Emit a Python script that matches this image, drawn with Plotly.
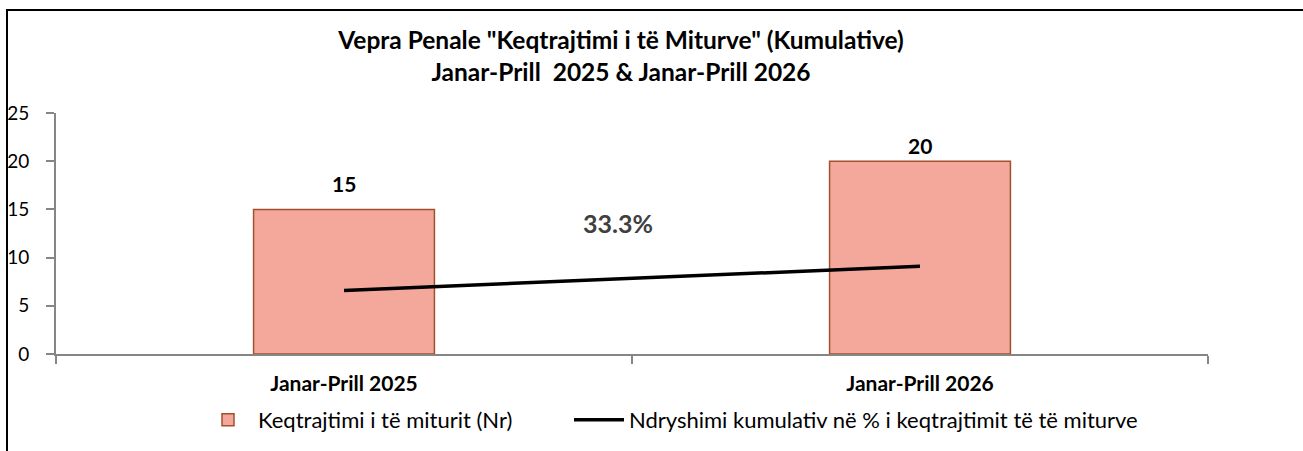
import plotly.graph_objects as go

categories = ["Janar-Prill 2025", "Janar-Prill 2026"]
bar_values = [15, 20]
line_values = [6.6, 9.1]  # position of the change line, read on the left scale
change_label = "33.3%"
y_ticks = [0, 5, 10, 15, 20, 25]

FONT = "Lato"
W, H = 1303, 451
# target plot area in pixels
PX0, PX1, PY0, PY1 = 56, 1208, 113, 354
L, R, T, B = PX0, W - PX1, PY0, H - PY1
pw, ph = PX1 - PX0, PY1 - PY0
label_shift = [26, 16]  # pixel offset of the value labels above the bars

fig = go.Figure()
fig.add_trace(go.Bar(
    x=categories, y=bar_values, name="Keqtrajtimi i të miturit (Nr)",
    marker=dict(color="#F4A79B", line=dict(color="#A0522D", width=1.5)),
    width=0.314, legend="legend",
))
fig.add_trace(go.Scatter(
    x=categories, y=line_values, mode="lines",
    name="Ndryshimi kumulativ në % i keqtrajtimit të të miturve",
    line=dict(color="#000000", width=3.5), legend="legend2",
))

for c, v, s in zip(categories, bar_values, label_shift):
    fig.add_annotation(
        x=c, y=v, xref="x", yref="y", text=str(v), showarrow=False,
        yanchor="middle", yshift=s,
        font=dict(family=FONT, size=21, color="#000000", weight="bold"),
    )

fig.add_annotation(
    x=0.5, y=(PY1 - 223) / ph * 25, xref="x", yref="y",
    text=change_label, showarrow=False, xshift=-14,
    font=dict(family=FONT, size=25, color="#404040", weight="bold"),
)

fig.add_shape(type="rect", xref="paper", yref="paper",
              x0=(7 - PX0) / pw, x1=1.3, y0=-0.6, y1=(PY1 - 10) / ph,
              line=dict(color="#000000", width=2))

leg_y = -(420 - PY1 - 21) / ph
fig.update_layout(
    width=W, height=H,
    margin=dict(l=L, r=R, t=T, b=B, pad=0, autoexpand=False),
    paper_bgcolor="white", plot_bgcolor="white",
    title=dict(
        text='Vepra Penale "Keqtrajtimi i të Miturve" (Kumulative)<br>Janar-Prill  2025 & Janar-Prill 2026',
        x=(621 - PX0) / pw, xref="paper", xanchor="center",
        y=1 - 49 / H, yanchor="top",
        font=dict(family=FONT, size=24.5, color="#000000", weight="bold"),
    ),
    showlegend=True,
    legend=dict(
        orientation="h", x=(198 - PX0) / pw, xanchor="left",
        y=leg_y, yanchor="top",
        font=dict(family=FONT, size=22, color="#000000"),
        itemwidth=50,
    ),
    legend2=dict(
        orientation="h", x=(569 - PX0) / pw, xanchor="left",
        y=leg_y, yanchor="top",
        font=dict(family=FONT, size=22, color="#000000"),
        itemwidth=50,
    ),
    font=dict(family=FONT, color="#000000"),
)
fig.update_xaxes(
    automargin=False,
    showline=True, linecolor="#868686", linewidth=2,
    ticks="outside", ticklen=8, tickcolor="#868686", tickwidth=1.5,
    tickson="boundaries", showgrid=False, ticklabelstandoff=10,
    tickfont=dict(family=FONT, size=21, color="#000000", weight="bold"),
    range=[-0.5, 1.5],
)
fig.update_yaxes(
    automargin=False,
    range=[0, 25], tickvals=y_ticks, showline=True, linecolor="#868686", linewidth=2,
    ticks="outside", ticklen=8, tickcolor="#868686", tickwidth=1.5,
    showgrid=False, zeroline=False, ticklabelstandoff=13,
    tickfont=dict(family=FONT, size=19, color="#000000"),
)

fig.write_html("out.html", config={"displayModeBar": False},
               post_script="document.body.style.margin='0';")
